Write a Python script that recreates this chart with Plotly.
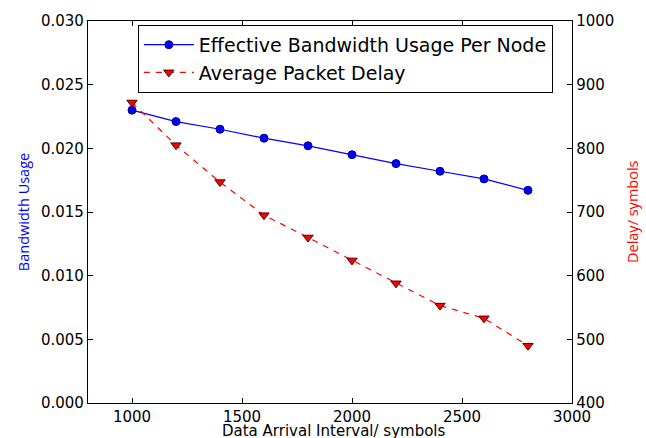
import plotly.graph_objects as go

interval = [1000, 1200, 1400, 1600, 1800, 2000, 2200, 2400, 2600, 2800]
bandwidth = [0.0230, 0.0221, 0.0215, 0.0208, 0.0202, 0.0195, 0.0188, 0.0182, 0.0176, 0.0167]
delay = [872, 805, 747, 695, 660, 624, 588, 553, 533, 490]

x_ticks = [1000, 1500, 2000, 2500, 3000]
y1_ticks = [0.000, 0.005, 0.010, 0.015, 0.020, 0.025, 0.030]
y2_ticks = [400, 500, 600, 700, 800, 900, 1000]

FONT = "DejaVu Sans"

fig = go.Figure()
fig.add_trace(go.Scatter(
    x=interval, y=bandwidth, mode="lines+markers",
    name="Effective Bandwidth Usage Per Node",
    line=dict(color="#0000ff", width=1.2),
    marker=dict(symbol="circle", size=8, color="#0000ff", line=dict(color="#00008b", width=1)),
))
fig.add_trace(go.Scatter(
    x=interval, y=delay, mode="lines+markers", yaxis="y2",
    name="Average Packet Delay",
    line=dict(color="#ff0000", width=1.2, dash="6px,6px"),
    marker=dict(symbol="triangle-down", size=9, color="#ff0000", line=dict(color="#550000", width=1)),
))

axis_common = dict(
    showline=True, linecolor="black", linewidth=1.3, ticks="inside",
    ticklen=5, tickcolor="black", showgrid=False, zeroline=False,
    tickfont=dict(family=FONT, size=15, color="black"),
)

fig.update_layout(
    width=646, height=438,
    margin=dict(l=88, r=74, t=15, b=35),
    paper_bgcolor="white", plot_bgcolor="white",
    font=dict(family=FONT, color="black"),
    xaxis=dict(range=[800, 3000], tickvals=x_ticks, mirror="ticks", **axis_common),
    yaxis=dict(range=[0, 0.030], tickvals=y1_ticks, tickformat=".3f", **axis_common),
    yaxis2=dict(range=[400, 1000], tickvals=y2_ticks, overlaying="y", side="right", **axis_common),
    legend=dict(
        x=0.103, y=0.99, xanchor="left", yanchor="top",
        bgcolor="white", bordercolor="black", borderwidth=1,
        font=dict(family=FONT, size=19, color="black"),
        tracegroupgap=0, itemwidth=50,
    ),
    showlegend=True,
    annotations=[
        dict(text="Data Arrival Interval/ symbols", xref="paper", yref="paper",
             x=0.509, y=-0.074, xanchor="center", yanchor="middle", showarrow=False,
             font=dict(family=FONT, size=15, color="black")),
        dict(text="Bandwidth Usage", xref="paper", yref="paper",
             x=-0.134, y=0.5, xanchor="center", yanchor="middle", textangle=-90, showarrow=False,
             font=dict(family="Open Sans", size=14.5, color="#0000ff")),
        dict(text="Delay/ symbols", xref="paper", yref="paper",
             x=1.124, y=0.5, xanchor="center", yanchor="middle", textangle=-90, showarrow=False,
             font=dict(family="Open Sans", size=14.5, color="#ff0000")),
    ],
)

fig.write_html("out.html")
